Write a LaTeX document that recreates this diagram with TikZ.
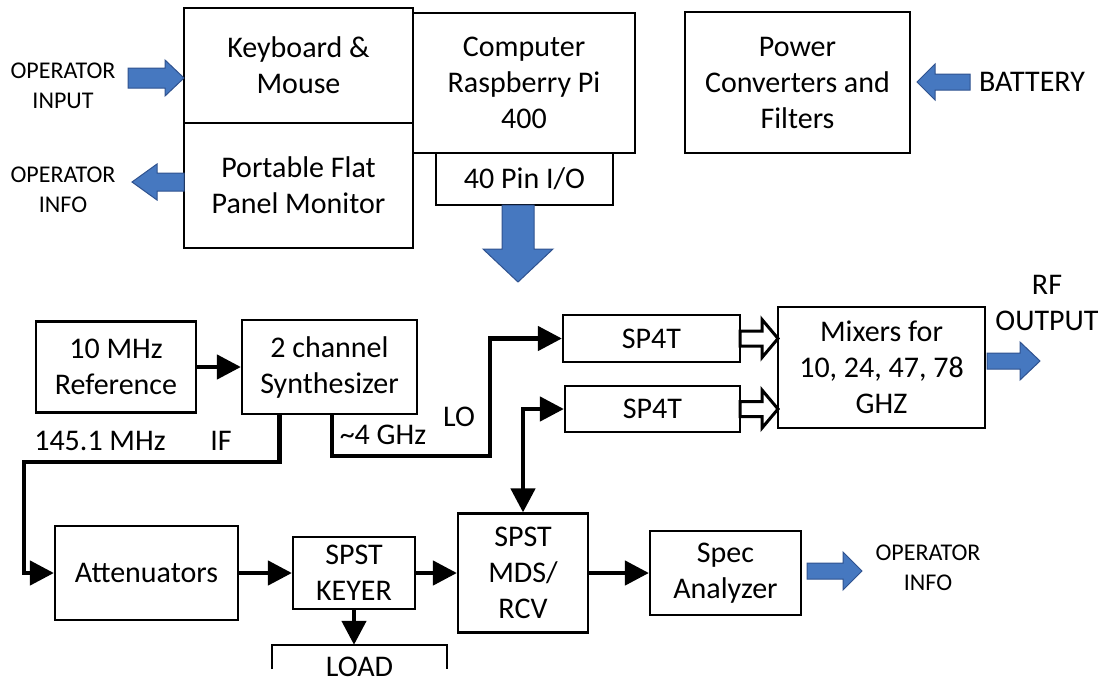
\documentclass[tikz,border=0pt]{standalone}
\usepackage{fontspec}
\setmainfont{Carlito}
\usetikzlibrary{arrows.meta,calc}
\definecolor{arrowblue}{RGB}{70,120,192}
\definecolor{arrowedge}{RGB}{47,82,143}
\newcommand{\bfs}{\fontsize{30}{36}\selectfont}
\newcommand{\sfs}{\fontsize{24}{30}\selectfont}
% horizontal block arrow: [style]{tail x}{tip x}{y}{head start x}{shaft half}{head half}
\newcommand{\blockh}[7][barrow]{\draw[#1] (#2,#4-#6) -- (#5,#4-#6) -- (#5,#4-#7) -- (#3,#4) -- (#5,#4+#7) -- (#5,#4+#6) -- (#2,#4+#6) -- cycle;}
\begin{document}
\begin{tikzpicture}[x=1pt,y=-1pt,
  box/.style={draw, line width=2.2pt, inner sep=0pt, align=center, font=\bfs},
  lbl/.style={inner sep=0pt, align=center, font=\bfs},
  slbl/.style={inner sep=0pt, align=center, font=\sfs},
  conn/.style={line width=4.5pt, -{Triangle[length=24pt,width=24pt]}},
  dconn/.style={line width=4.5pt, {Triangle[length=24pt,width=24pt]}-{Triangle[length=24pt,width=24pt]}},
  barrow/.style={fill=arrowblue, draw=arrowedge, line width=1pt},
  oarrow/.style={fill=white, draw=black, line width=3pt}]
\useasboundingbox (0,0) rectangle (1102,689);
\clip (0,0) rectangle (1102,689);

% top section
\node[box, minimum width=229, minimum height=115] (kbd) at (298.5,65.5) {Keyboard \&\\Mouse};
\node[box, minimum width=229, minimum height=125] (mon) at (298.5,185.5) {Portable Flat\\Panel Monitor};
\node[box, minimum width=222, minimum height=140] (comp) at (524,83) {Computer\\Raspberry Pi\\400};
\node[box, minimum width=177, minimum height=52] (pin) at (524.5,179) {40 Pin I/O};
\node[box, minimum width=225, minimum height=141] (pwr) at (797.5,82.5) {Power\\Converters and\\Filters};

\node[slbl] (opin) at (63,86) {OPERATOR\\INPUT};
\node[slbl] (opinfo1) at (63,190) {OPERATOR\\INFO};
\node[lbl] (batt) at (1032,82) {BATTERY};

\blockh{128}{184}{78}{165}{10}{18}
\blockh{184}{132}{182}{157}{9}{18}
\blockh{970}{917}{82}{935}{8}{18}
% big down arrow from 40 pin I/O
\draw[barrow] (502,205) -- (534,205) -- (534,249) -- (553,249) -- (518,282) -- (483,249) -- (502,249) -- cycle;

% middle section
\node[box, minimum width=160, minimum height=91] (ref) at (116,367) {10 MHz\\Reference};
\node[box, minimum width=175, minimum height=94] (syn) at (329.5,367) {2 channel\\Synthesizer};
\node[box, minimum width=177, minimum height=47] (spa) at (651.5,338.5) {SP4T};
\node[box, minimum width=175, minimum height=46] (spb) at (652.5,409) {SP4T};
\node[box, minimum width=207, minimum height=121] (mix) at (881.5,367.5) {Mixers for\\10, 24, 47, 78\\GHZ};
\node[lbl] (rf) at (1047,303) {RF\\OUTPUT};

\node[lbl] (iffreq) at (100,441) {145.1 MHz};
\node[lbl] (iflbl) at (221,441) {IF};
\node[lbl] (lofreq) at (383,435) {\textasciitilde4 GHz};
\node[lbl] (lolbl) at (459,417) {LO};

\blockh[oarrow]{740}{778}{338.5}{762}{7.5}{19}
\blockh[oarrow]{740}{778}{409}{762}{7.5}{19}
\blockh{987}{1040}{361}{1020}{8}{19}

% bottom section
\node[box, minimum width=183, minimum height=94] (att) at (146.5,573) {Attenuators};
\node[box, minimum width=122, minimum height=72] (key) at (354,573) {SPST\\KEYER};
\node[lbl, minimum width=175, minimum height=44] (load) at (359.5,667) {LOAD};
\draw[line width=2.2pt] ([yshift=20pt]load.south west) |- (load.north east) -- ([yshift=20pt]load.south east);
\node[box, minimum width=130, minimum height=119] (mds) at (523,573) {SPST\\MDS/\\RCV};
\node[box, minimum width=151, minimum height=84] (spec) at (725.5,573) {Spec\\Analyzer};
\node[slbl] (opinfo2) at (928,568) {OPERATOR\\INFO};
\blockh{807}{862}{571}{843}{8}{19}

% connectors
\coordinate (ifc) at (24,462);
\coordinate (loc) at (490,456);
\draw[conn] (ref.east) -- (syn.west);
\draw[conn] ([xshift=-50pt]syn.south) |- (ifc) |- (att.west);
\draw[conn] ([xshift=2.5pt]syn.south) |- (loc) |- (spa.west);
\draw[dconn] (mds.north) |- (spb.west);
\draw[conn] (att.east) -- (key.west);
\draw[conn] (key.east) -- (mds.west);
\draw[conn] (key.south) -- (key.south |- load.north);
\draw[conn] (mds.east) -- (spec.west);
\end{tikzpicture}
\end{document}
